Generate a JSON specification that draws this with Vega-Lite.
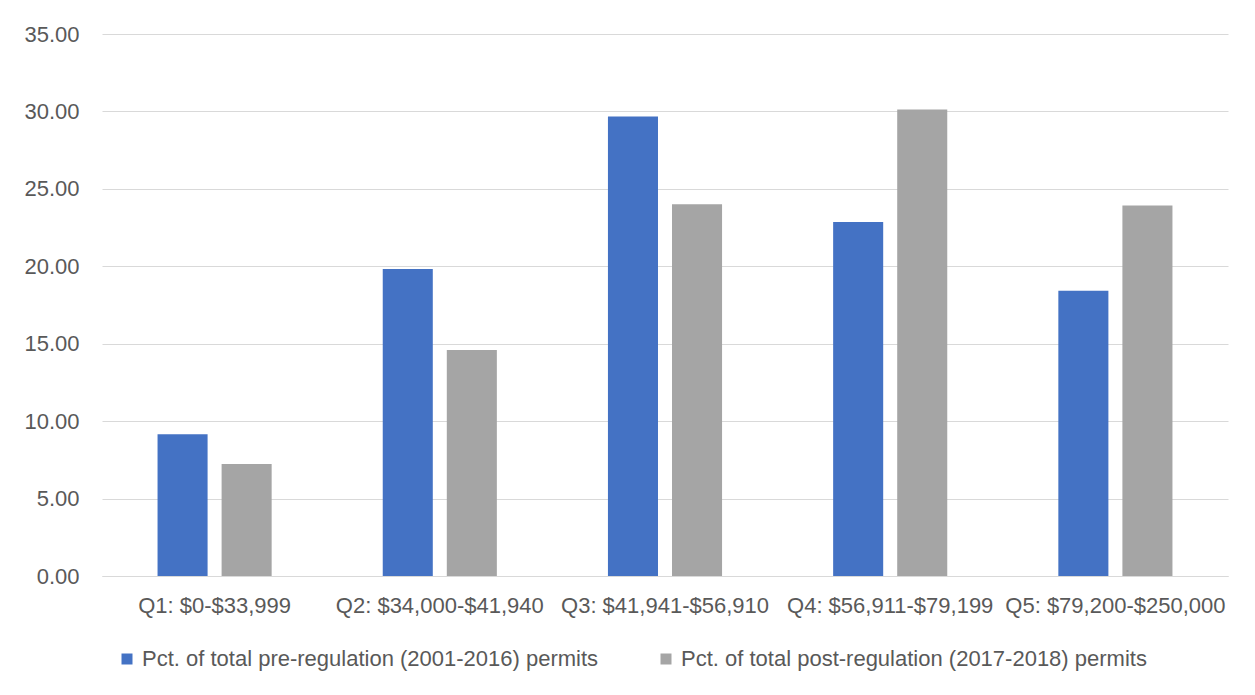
{
  "$schema": "https://vega.github.io/schema/vega-lite/v6.json",
  "width": 1126,
  "height": 542,
  "autosize": {"type": "none"},
  "padding": {"left": 102, "top": 34, "right": 27, "bottom": 119},
  "background": "white",
  "data": {
    "values": [
      {"quintile": "Q1: $0-$33,999", "series": "Pct. of total pre-regulation (2001-2016) permits", "pct": 9.16},
      {"quintile": "Q1: $0-$33,999", "series": "Pct. of total post-regulation (2017-2018) permits", "pct": 7.24},
      {"quintile": "Q2: $34,000-$41,940", "series": "Pct. of total pre-regulation (2001-2016) permits", "pct": 19.82},
      {"quintile": "Q2: $34,000-$41,940", "series": "Pct. of total post-regulation (2017-2018) permits", "pct": 14.6},
      {"quintile": "Q3: $41,941-$56,910", "series": "Pct. of total pre-regulation (2001-2016) permits", "pct": 29.67},
      {"quintile": "Q3: $41,941-$56,910", "series": "Pct. of total post-regulation (2017-2018) permits", "pct": 24.0},
      {"quintile": "Q4: $56,911-$79,199", "series": "Pct. of total pre-regulation (2001-2016) permits", "pct": 22.86},
      {"quintile": "Q4: $56,911-$79,199", "series": "Pct. of total post-regulation (2017-2018) permits", "pct": 30.12},
      {"quintile": "Q5: $79,200-$250,000", "series": "Pct. of total pre-regulation (2001-2016) permits", "pct": 18.42},
      {"quintile": "Q5: $79,200-$250,000", "series": "Pct. of total post-regulation (2017-2018) permits", "pct": 23.92}
    ]
  },
  "mark": {"type": "bar"},
  "encoding": {
    "x": {
      "field": "quintile",
      "type": "nominal",
      "sort": null,
      "scale": {"paddingInner": 0, "paddingOuter": 0},
      "axis": {
        "title": null,
        "labelAngle": 0,
        "ticks": false,
        "domainColor": "#d9d9d9",
        "domainWidth": 1,
        "labelPadding": 19,
        "labelFontSize": 22,
        "labelColor": "#595959",
        "labelFont": "Liberation Sans",
        "labelLimit": 0,
        "labelOverlap": false
      }
    },
    "xOffset": {
      "field": "series",
      "type": "nominal",
      "sort": null,
      "scale": {"paddingInner": 0.21875, "paddingOuter": 0.867}
    },
    "y": {
      "field": "pct",
      "type": "quantitative",
      "scale": {"domain": [0, 35], "nice": false},
      "axis": {
        "title": null,
        "values": [0, 5, 10, 15, 20, 25, 30, 35],
        "format": ".2f",
        "ticks": false,
        "domain": false,
        "gridColor": "#d9d9d9",
        "gridWidth": 1,
        "labelPadding": 23,
        "labelFontSize": 22,
        "labelColor": "#595959",
        "labelFont": "Liberation Sans"
      }
    },
    "color": {
      "field": "series",
      "type": "nominal",
      "sort": null,
      "scale": {"range": ["#4472C4", "#A5A5A5"]},
      "legend": {
        "title": null,
        "orient": "none",
        "direction": "horizontal",
        "legendX": 14,
        "legendY": 614,
        "symbolType": "square",
        "symbolSize": 121,
        "symbolStrokeWidth": 0,
        "labelFontSize": 22,
        "labelColor": "#595959",
        "labelFont": "Liberation Sans",
        "labelLimit": 0,
        "labelOffset": 4,
        "columnPadding": 56
      }
    }
  },
  "config": {
    "view": {"stroke": null},
    "font": "Liberation Sans"
  }
}
